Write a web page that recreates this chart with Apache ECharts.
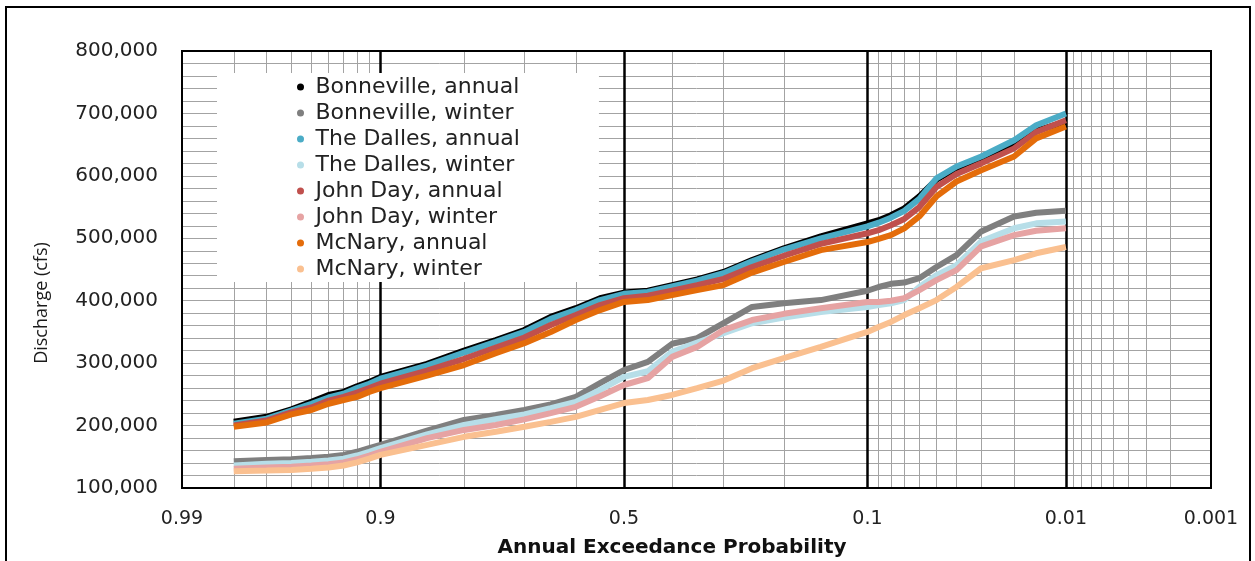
<!DOCTYPE html>
<html><head><meta charset="utf-8">
<script src="https://cdn.jsdelivr.net/npm/echarts@6/dist/echarts.min.js"></script>
<style>html,body{margin:0;padding:0;background:#fff}#c{width:1255px;height:561px}</style>
</head><body><div id="c"></div>
<script>
// Annual exceedance probabilities of the sampled points
const aep = [0.98,0.97,0.96,0.95,0.94,0.93,0.92,0.91,0.9,0.85,0.8,0.75,0.7,0.65,0.6,0.55,0.5,0.45,0.4,0.35,0.3,0.25,0.2,0.15,0.1,0.09,0.08,0.07,0.06,0.05,0.04,0.03,0.02,0.015,0.01];

const bonnevilleAnnual = [206000,214000,226000,238000,249000,254000,263000,270000,278000,299000,320000,337000,353000,374000,388000,404000,413000,416000,425000,434000,446000,465000,484000,503000,524000,529000,537000,548000,567000,594000,612000,628000,652000,672000,687000];
const bonnevilleWinter = [143000,145000,146000,148000,150000,153000,158000,164000,169000,192000,209000,217000,225000,234000,246000,268000,289000,302000,331000,340000,364000,390000,396000,401000,416000,422000,427000,429000,436000,454000,473000,511000,535000,541000,544000];
const dallesAnnual = [203000,211000,224000,235000,245000,251000,260000,267000,275000,296000,317000,334000,350000,371000,385000,401000,411000,414000,423000,432000,444000,463000,482000,500000,519000,525000,533000,544000,563000,596000,615000,631000,657000,681000,700000];
const dallesWinter = [136000,139000,140000,142000,144000,147000,152000,158000,164000,186000,201000,210000,218000,228000,238000,257000,278000,287000,318000,333000,348000,364000,373000,382000,390000,393000,396000,401000,422000,441000,457000,495000,516000,524000,527000];
const johnDayAnnual = [200000,208000,221000,229000,240000,246000,253000,260000,267000,288000,307000,325000,341000,361000,377000,393000,404000,408000,416000,425000,435000,454000,472000,491000,508000,513000,521000,531000,550000,582000,603000,620000,644000,670000,689000];
const johnDayWinter = [131000,133000,134000,136000,138000,141000,146000,152000,158000,180000,193000,201000,210000,220000,230000,247000,265000,276000,310000,326000,353000,369000,379000,388000,398000,398000,400000,404000,417000,433000,449000,487000,505000,512000,516000];
const mcNaryAnnual = [198000,205000,218000,225000,235000,241000,246000,254000,260000,280000,297000,316000,332000,350000,369000,385000,398000,401000,409000,417000,425000,445000,462000,481000,494000,499000,505000,516000,535000,567000,591000,609000,631000,660000,679000];
const mcNaryWinter = [127000,128000,129000,131000,133000,136000,141000,147000,153000,169000,182000,190000,198000,206000,214000,225000,236000,241000,249000,260000,272000,292000,308000,326000,350000,358000,366000,377000,388000,401000,422000,452000,465000,476000,486000];

const seriesNames = ['Bonneville, annual','Bonneville, winter','The Dalles, annual','The Dalles, winter','John Day, annual','John Day, winter','McNary, annual','McNary, winter'];
const seriesValues = [bonnevilleAnnual,bonnevilleWinter,dallesAnnual,dallesWinter,johnDayAnnual,johnDayWinter,mcNaryAnnual,mcNaryWinter];
const seriesColors = ['#000000','#7f7f7f','#4bacc6','#b7dee8','#c0504d','#e6a3a3','#e46c0a','#fac090'];

// Probability axis ticks
const xTickProbs = [0.99,0.9,0.5,0.1,0.01,0.001];
const xTickLabels = ['0.99','0.9','0.5','0.1','0.01','0.001'];
const xMajorGridProbs = [0.9,0.5,0.1,0.01];
const xMinorGridProbs = [0.98,0.97,0.96,0.95,0.94,0.93,0.92,0.91,0.8,0.7,0.6,0.4,0.3,0.2,0.09,0.08,0.07,0.06,0.05,0.04,0.03,0.02,0.009,0.008,0.007,0.006,0.005,0.004,0.003,0.002];
const yMin = 100000, yMax = 800000, yStep = 100000;

// inverse standard normal CDF (Acklam)
function normInv(p){
  const a=[-3.969683028665376e+01,2.209460984245205e+02,-2.759285104469687e+02,1.383577518672690e+02,-3.066479806614716e+01,2.506628277459239e+00];
  const b=[-5.447609879822406e+01,1.615858368580409e+02,-1.556989798598866e+02,6.680131188771972e+01,-1.328068155288572e+01];
  const c=[-7.784894002430293e-03,-3.223964580411365e-01,-2.400758277161838e+00,-2.549732539343734e+00,4.374664141464968e+00,2.938163982698783e+00];
  const d=[7.784695709041462e-03,3.224671290700398e-01,2.445134137142996e+00,3.754408661907416e+00];
  const pl=0.02425, ph=1-pl; let q,r;
  if(p<pl){q=Math.sqrt(-2*Math.log(p));return (((((c[0]*q+c[1])*q+c[2])*q+c[3])*q+c[4])*q+c[5])/((((d[0]*q+d[1])*q+d[2])*q+d[3])*q+1);}
  if(p<=ph){q=p-0.5;r=q*q;return (((((a[0]*r+a[1])*r+a[2])*r+a[3])*r+a[4])*r+a[5])*q/(((((b[0]*r+b[1])*r+b[2])*r+b[3])*r+b[4])*r+1);}
  q=Math.sqrt(-2*Math.log(1-p));return -(((((c[0]*q+c[1])*q+c[2])*q+c[3])*q+c[4])*q+c[5])/((((d[0]*q+d[1])*q+d[2])*q+d[3])*q+1);
}
const toU = p => normInv(1 - p);
const xMin = toU(0.99), xMax = toU(0.001);

const chart = echarts.init(document.getElementById('c'), null, {renderer:'canvas'});
const textColor = '#222';
const gridGrey = '#a3a3a3';

const option = {
  animation: false,
  backgroundColor: '#fff',
  grid: {left:182, right:44, top:51, bottom:73, show:true, borderColor:'#000', borderWidth:2, backgroundColor:'transparent', z:5},
  xAxis: [
    { type:'value', min:xMin, max:xMax, position:'bottom',
      axisLine:{show:false}, axisTick:{show:false, customValues: xMinorGridProbs.map(toU)},
      axisLabel:{show:false, customValues: xMinorGridProbs.map(toU)},
      splitLine:{show:true, lineStyle:{color:gridGrey, width:1}} },
    { type:'value', min:xMin, max:xMax, position:'bottom', z:1,
      axisLine:{show:true, lineStyle:{color:'#000', width:2}},
      axisTick:{show:false, customValues: xMajorGridProbs.map(toU)},
      axisLabel:{show:true, customValues: xTickProbs.map(toU), margin:22,
        fontFamily:'DejaVu Sans', fontSize:19, color:textColor,
        formatter: v => { for (let i=0;i<xTickProbs.length;i++){ if (Math.abs(toU(xTickProbs[i])-v) < 1e-6) return xTickLabels[i]; } return ''; } },
      splitLine:{show:true, lineStyle:{color:'#000', width:2.5}} }
  ],
  yAxis: {
    type:'value', min:yMin, max:yMax, interval:yStep,
    axisLine:{show:false}, axisTick:{show:false},
    axisLabel:{margin:24, fontFamily:'DejaVu Sans', fontSize:20, color:textColor,
      formatter: v => v.toLocaleString('en-US')},
    splitLine:{show:true, lineStyle:{color:gridGrey, width:1}},
    minorTick:{show:false, splitNumber:5},
    minorSplitLine:{show:true, lineStyle:{color:gridGrey, width:1}}
  },
  legend: {
    orient:'vertical', left:217, top:73, backgroundColor:'#fff',
    padding:[3,79,2,80], itemGap:4, itemWidth:20, itemHeight:7, icon:'circle',
    textStyle:{fontFamily:'DejaVu Sans', fontSize:22, color:textColor, lineHeight:20},
    data: seriesNames, selectedMode:false
  },
  graphic: [
    { type:'text', position:[672,548], style:{text:'Annual Exceedance Probability', x:0, y:0, font:'bold 20px "DejaVu Sans"', fill:'#111', textAlign:'center', textVerticalAlign:'middle'} },
    { type:'text', rotation:Math.PI/2, position:[42,303], style:{text:'Discharge (cfs)', x:0, y:0, font:'18px "Open Sans"', fill:'#1a1a1a', textAlign:'center', textVerticalAlign:'middle'} },
    { type:'rect', shape:{x:6, y:7, width:1244, height:600}, style:{fill:'none', stroke:'#000', lineWidth:2}, silent:true, z:-1 }
  ],
  series: seriesNames.map((name, k) => ({
    name, type:'line', xAxisIndex:1, yAxisIndex:0,
    showSymbol:false, symbol:'circle', z:2+k*0.01,
    color: seriesColors[k],
    lineStyle:{color:seriesColors[k], width:6},
    emphasis:{disabled:true},
    data: aep.map((p,i) => [toU(p), seriesValues[k][i]])
  }))
};
chart.setOption(option);
</script></body></html>
